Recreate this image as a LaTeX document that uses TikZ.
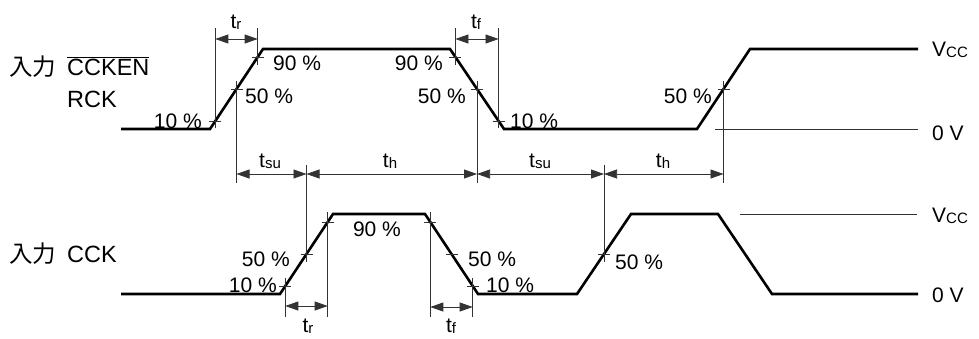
\documentclass[tikz,border=0pt]{standalone}
\usepackage{fontspec}
\setmainfont{Liberation Sans}
\newfontfamily\cjk{Noto Sans CJK JP}
\usetikzlibrary{arrows.meta,calc}
\newcommand\lowidx[1]{\raisebox{-1.5pt}{\fontsize{15}{15}\selectfont #1}}
\tikzset{sig/.style={black,line width=2.6pt},
  guide/.style={black!80,line width=0.75pt},
  dim/.style={guide,{Triangle[length=13pt,width=9pt]}-{Triangle[length=13pt,width=9pt]}},
  pct/.style={font=\fontsize{21}{23}\selectfont,inner sep=0pt},
  lbl/.style={font=\fontsize{23.5}{26}\selectfont,inner sep=0pt,anchor=base west}}

\begin{document}
\begin{tikzpicture}[x=1pt,y=-1pt]
  \useasboundingbox (0,0) rectangle (979,338);
  % CCKEN / RCK
  \draw[sig] (121,129) -- (210,129) coordinate (ua) -- (263,49) coordinate (ub)
    -- (450,49) coordinate (uc) -- (504,129) coordinate (ud)
    -- (697,129) coordinate (ue) -- (750,49) coordinate (uf) -- (918,49);
  % CCK
  \draw[sig] (121,294) -- (280,294) coordinate (la) -- (333,214) coordinate (lb)
    -- (425,214) coordinate (lc) -- (478,294) coordinate (ld)
    -- (577,294) coordinate (le) -- (631,214) coordinate (lf)
    -- (718,214) -- (772,294) -- (918,294);
  \draw[guide] (715,129) -- (918,129);
  \draw[guide] (740,214) -- (917,214);

  \path ($(ua)!.1!(ub)$) coordinate (ur10) ($(ua)!.5!(ub)$) coordinate (ur50) ($(ua)!.9!(ub)$) coordinate (ur90)
        ($(ud)!.9!(uc)$) coordinate (uf90) ($(ud)!.5!(uc)$) coordinate (uf50) ($(ud)!.1!(uc)$) coordinate (uf10)
        ($(ue)!.5!(uf)$) coordinate (us50)
        ($(la)!.1!(lb)$) coordinate (lr10) ($(la)!.5!(lb)$) coordinate (lr50) ($(la)!.9!(lb)$) coordinate (lr90)
        ($(ld)!.9!(lc)$) coordinate (lf90) ($(ld)!.5!(lc)$) coordinate (lf50) ($(ld)!.1!(lc)$) coordinate (lf10)
        ($(le)!.5!(lf)$) coordinate (ls50);
  \foreach \p in {ur10,ur50,ur90,uf90,uf50,uf10,us50,lr10,lr50,lr90,lf90,lf50,lf10,ls50}
    \draw[guide] ([xshift=-6pt]\p) -- ([xshift=6pt]\p);

  % rise / fall times
  \draw[guide] (ur10 |- 0,128) -- (ur10 |- 0,28)  (ur90 |- 0,65) -- (ur90 |- 0,28);
  \draw[dim] (ur10 |- 0,39) -- (ur90 |- 0,39);
  \draw[guide] (uf90 |- 0,65) -- (uf90 |- 0,28)  (uf10 |- 0,128) -- (uf10 |- 0,28);
  \draw[dim] (uf90 |- 0,39) -- (uf10 |- 0,39);
  \draw[guide] (lr10 |- 0,278) -- (lr10 |- 0,317)  (lr90 |- 0,212) -- (lr90 |- 0,317);
  \draw[dim] (lr10 |- 0,306) -- (lr90 |- 0,306);
  \draw[guide] (lf90 |- 0,212) -- (lf90 |- 0,317)  (lf10 |- 0,278) -- (lf10 |- 0,317);
  \draw[dim] (lf90 |- 0,307) -- (lf10 |- 0,307);

  % set-up / hold
  \draw[guide] (ur50 |- 0,81) -- (ur50 |- 0,183)  (uf50 |- 0,81) -- (uf50 |- 0,183)
    (us50 |- 0,81) -- (us50 |- 0,183)  (lr50 |- 0,165) -- (lr50 |- 0,262)
    (ls50 |- 0,165) -- (ls50 |- 0,262);
  \draw[dim] (ur50 |- 0,174) -- (lr50 |- 0,174);
  \draw[dim] (lr50 |- 0,174) -- (uf50 |- 0,174);
  \draw[dim] (uf50 |- 0,174) -- (ls50 |- 0,174);
  \draw[dim] (ls50 |- 0,174) -- (us50 |- 0,174);

  \node[pct,anchor=base] (tr1) at (236,28) {t\lowidx{r}};
  \node[pct,anchor=base] (tf1) at (476,28) {t\lowidx{f}};
  \node[pct,anchor=base] (tsu1) at (270,167) {t\lowidx{su}};
  \node[pct,anchor=base] (th1) at (390,167) {t\lowidx{h}};
  \node[pct,anchor=base] (tsu2) at (540,167) {t\lowidx{su}};
  \node[pct,anchor=base] (th2) at (663,167) {t\lowidx{h}};
  \node[pct,anchor=base] (tr2) at (308,332) {t\lowidx{r}};
  \node[pct,anchor=base] (tf2) at (451,332) {t\lowidx{f}};

  \node[pct,anchor=base east] (p1) at (202,128) {10 \%};
  \node[pct,anchor=base west] (p2) at (245,103) {50 \%};
  \node[pct,anchor=base west] (p3) at (273,70) {90 \%};
  \node[pct,anchor=base east] (p4) at (443,70) {90 \%};
  \node[pct,anchor=base east] (p5) at (466,103) {50 \%};
  \node[pct,anchor=base west] (p6) at (510,128) {10 \%};
  \node[pct,anchor=base east] (p7) at (712,103) {50 \%};
  \node[pct,anchor=base east] (p8) at (277,292) {10 \%};
  \node[pct,anchor=base east] (p9) at (290,266) {50 \%};
  \node[pct,anchor=base] (p10) at (377,236) {90 \%};
  \node[pct,anchor=base west] (p11) at (468,266) {50 \%};
  \node[pct,anchor=base west] (p12) at (486,292) {10 \%};
  \node[pct,anchor=base west] (p13) at (615,269) {50 \%};

  \node[pct,anchor=base west] (vcc1) at (932,56) {V\lowidx{CC}};
  \node[pct,anchor=base west] (gnd1) at (932,140) {0 V};
  \node[pct,anchor=base west] (vcc2) at (932,222) {V\lowidx{CC}};
  \node[pct,anchor=base west] (gnd2) at (932,302) {0 V};

  \node[lbl] (in1) at (9,75) {\cjk 入力};
  \node[lbl] (ccken) at (67,75) {$\overline{\hbox{CCKEN}}$};
  \node[lbl] (rck) at (67,107) {RCK};
  \node[lbl] (in2) at (9,262) {\cjk 入力};
  \node[lbl] (cck) at (67,262) {CCK};
\end{tikzpicture}
\end{document}
